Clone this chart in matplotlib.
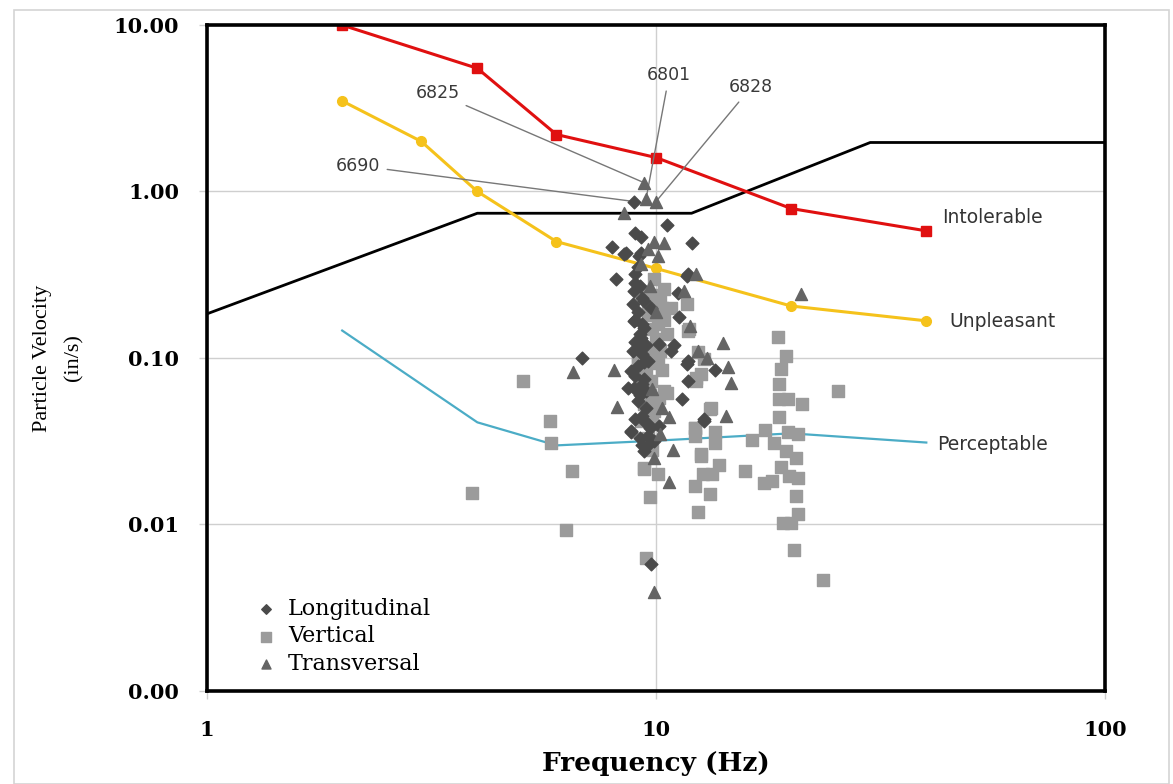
import numpy as np
import matplotlib.pyplot as plt
from matplotlib.patches import Rectangle

# criteria curves
freq_crit = [2, 4, 6, 10, 20, 40]
intolerable = [10.0, 5.5, 2.2, 1.6, 0.79, 0.58]
freq_unpl = [2, 3, 4, 6, 10, 20, 40]
unpleasant = [3.5, 2.0, 1.0, 0.5, 0.345, 0.205, 0.167]
perceptable = [0.146, 0.041, 0.0298, 0.0318, 0.0352, 0.031]

# limit line
freq_lim = [1, 4, 12, 30, 100]
vel_lim = [0.184, 0.74, 0.74, 1.97, 1.97]

# measured vibrations
long_f = [8.95, 10.6, 9.0, 9.26, 8.0, 12.05, 8.5, 9.15, 8.14, 11.2, 11.75, 11.25,
          10.95, 11.7, 13.5, 11.4, 12.8, 8.8, 9.4, 9.75, 8.65, 6.85, 8.57, 9.26,
          8.93, 8.88, 8.93, 9.26, 8.88, 9.75, 9.4, 10.16, 10.8, 11.8, 9.6, 11.8,
          8.79, 8.93, 8.79, 10.16, 9.9, 12.8, 11.8, 9.1, 9.0, 9.3, 9.1, 9.2, 9.0,
          9.3, 9.1, 9.4, 9.2, 9.5, 9.3, 9.6, 9.2, 9.6,
          9.0, 9.2, 9.4, 9.0, 9.3, 9.5, 9.1, 9.4, 9.0, 9.3, 9.5, 9.1, 9.4, 9.7,
          9.0, 9.6, 9.3]
long_v = [0.87, 0.63, 0.56, 0.53, 0.465, 0.49, 0.42, 0.41, 0.30, 0.245, 0.31, 0.175,
          0.12, 0.092, 0.084, 0.057, 0.043, 0.036, 0.0275, 0.0058, 0.066, 0.10, 0.424, 0.424,
          0.254, 0.211, 0.167, 0.132, 0.11, 0.20, 0.152, 0.121, 0.11, 0.096, 0.096, 0.32,
          0.0835, 0.066, 0.0363, 0.039, 0.0316, 0.0417, 0.0727, 0.35, 0.28, 0.23, 0.19, 0.14, 0.125,
          0.105, 0.09, 0.075, 0.06, 0.05, 0.045, 0.04, 0.033, 0.034,
          0.32, 0.27, 0.22, 0.17, 0.16, 0.12, 0.115, 0.095, 0.078, 0.07, 0.063, 0.055, 0.042, 0.038,
          0.043, 0.030, 0.030]

vert_f = [3.9, 5.05, 5.8, 5.85, 6.3, 6.5, 9.5, 9.7, 9.4, 12.6, 12.2, 12.4, 13.2, 12.7,
          13.3, 13.8, 13.2, 12.2, 12.2, 13.5, 13.5, 15.8, 16.4, 17.5, 17.4, 18.1, 18.7,
          19.5, 19.0, 18.8, 18.8, 19.7, 21.1, 18.8, 19.7, 20.7, 18.3, 19.5, 20.5, 19.0,
          19.8, 20.7, 20.5, 20.7, 20.0, 19.2, 20.3, 23.6, 25.4,
          11.7, 11.8, 12.4, 12.8, 12.3, 12.6, 10.4, 10.8, 10.3, 10.1, 9.75, 9.11, 10.6,
          11.85, 9.4, 10.16, 9.26, 10.6, 12.3, 12.2, 13.25, 12.6, 9.4, 10.1, 10.1, 9.11,
          9.75, 9.9, 9.5, 9.9, 10.0, 9.6, 10.3, 9.8, 10.2, 10.4,
          9.6, 9.8, 9.5, 9.7, 9.9, 9.6, 9.8, 10.2, 10.4, 10.0]
vert_v = [0.0155, 0.073, 0.042, 0.031, 0.0093, 0.021, 0.0063, 0.0145, 0.0215, 0.0256, 0.017,
          0.0118, 0.0152, 0.020, 0.020, 0.0227, 0.049, 0.038, 0.034, 0.036, 0.031, 0.021,
          0.032, 0.037, 0.0178, 0.0182, 0.134, 0.103, 0.086, 0.070, 0.057, 0.057, 0.053,
          0.044, 0.036, 0.035, 0.031, 0.0275, 0.025, 0.022, 0.0196, 0.019, 0.0148, 0.0115,
          0.0102, 0.0102, 0.007, 0.0046, 0.063,
          0.21, 0.146, 0.108, 0.098, 0.076, 0.080, 0.063, 0.20, 0.20, 0.16, 0.11, 0.096, 0.14,
          0.15, 0.0528, 0.0574, 0.0417, 0.0615, 0.0727, 0.038, 0.050, 0.0265, 0.0217, 0.020,
          0.093, 0.093, 0.0727, 0.048, 0.25, 0.30, 0.13, 0.18, 0.085, 0.040, 0.23, 0.26,
          0.21, 0.15, 0.085, 0.06, 0.055, 0.033, 0.028, 0.11, 0.17, 0.24]

trans_f = [9.4, 10.0, 8.5, 10.4, 11.55, 12.3, 11.9, 14.1, 6.55, 8.05, 8.2, 14.5, 14.7,
           14.3, 10.7, 10.9, 10.7, 9.9, 21.0, 9.26, 10.1, 12.4, 13.0, 9.5,
           9.7, 10.0, 9.8, 10.2, 9.9, 10.3, 9.6, 9.9]
trans_v = [1.13, 0.87, 0.74, 0.49, 0.254, 0.32, 0.155, 0.123, 0.082, 0.084, 0.051, 0.088,
           0.071, 0.045, 0.044, 0.028, 0.018, 0.0039, 0.243, 0.368, 0.41, 0.11, 0.10, 0.90,
           0.27, 0.19, 0.065, 0.035, 0.025, 0.05, 0.45, 0.50]

# labelled events: (label, freq, vel, text freq, text vel)
events = [('6825', 9.4, 1.13, 3.26, 3.9),
          ('6690', 8.95, 0.87, 2.17, 1.43),
          ('6801', 9.5, 0.90, 10.7, 5.0),
          ('6828', 10.0, 0.87, 16.3, 4.24)]

SERIF = 'DejaVu Serif'
SANS = 'DejaVu Sans'

fig = plt.figure(figsize=(11.73, 7.84), dpi=100)
fig.patches.append(Rectangle((0.012, 0.0), 0.985, 0.987, transform=fig.transFigure,
                             fill=False, edgecolor='#d4d4d4', lw=1.2))
ax = fig.add_axes([0.1765, 0.119, 0.7655, 0.849])

ax.set_xscale('log')
ax.set_yscale('log')
ax.set_xlim(1, 100)
ax.set_ylim(0.001, 10)

ax.grid(True, which='major', color='#cfcfcf', lw=1.0)
ax.minorticks_off()
ax.set_axisbelow(True)

ax.plot(freq_lim, vel_lim, color='black', lw=2.0)
ax.plot(freq_crit, intolerable, color='#e01010', lw=2.2, marker='s', ms=7.5)
ax.plot(freq_unpl, unpleasant, color='#f5c21b', lw=2.2, marker='o', ms=7)
ax.plot(freq_crit, perceptable, color='#4bacc6', lw=1.6)

ax.scatter(vert_f, vert_v, marker='s', s=80, color='#9b9b9b', label='Vertical', zorder=3)
ax.scatter(long_f, long_v, marker='D', s=42, color='#4a4a4a', label='Longitudinal', zorder=4)
ax.scatter(trans_f, trans_v, marker='^', s=75, color='#646464', label='Transversal', zorder=4)

for lab, fx, fy, tx, ty in events:
    ax.annotate(lab, xy=(fx, fy), xytext=(tx, ty), fontsize=12.5, family=SANS,
                color='#3a3a3a', ha='center', va='center',
                arrowprops=dict(arrowstyle='-', color='#777777', lw=1.0, shrinkA=3, shrinkB=2))

ax.text(43.3, 0.70, 'Intolerable', fontsize=13.5, family=SANS, color='#333333', va='center')
ax.text(45.1, 0.165, 'Unpleasant', fontsize=13.5, family=SANS, color='#333333', va='center')
ax.text(42.2, 0.0303, 'Perceptable', fontsize=13.5, family=SANS, color='#333333', va='center')

for s in ax.spines.values():
    s.set_linewidth(2.6)
    s.set_color('black')

ax.set_xticks([1, 10, 100])
ax.set_xticklabels(['1', '10', '100'])
ax.set_yticks([0.001, 0.01, 0.1, 1, 10])
ax.set_yticklabels(['0.00', '0.01', '0.10', '1.00', '10.00'])
ax.tick_params(axis='both', length=6, color='#cfcfcf', width=1)
ax.tick_params(axis='y', pad=14)
ax.tick_params(axis='x', pad=15)
for t in ax.get_xticklabels() + ax.get_yticklabels():
    t.set_family(SERIF)
    t.set_fontsize(15)
    t.set_fontweight('bold')

ax.set_xlabel('Frequency (Hz)', family=SERIF, fontsize=19, fontweight='bold', labelpad=8)
ax.set_ylabel('Particle Velocity\n(in/s)', family='Liberation Serif', fontsize=16,
              labelpad=22, linespacing=1.85)

handles, labels = ax.get_legend_handles_labels()
order = [1, 0, 2]
leg = ax.legend([handles[i] for i in order], [labels[i] for i in order],
                loc='lower left', bbox_to_anchor=(0.031, -0.006), frameon=False,
                prop={'family': SERIF, 'size': 16}, handletextpad=0.5,
                labelspacing=0.24, handlelength=1.0, markerscale=0.75)

plt.savefig('out.png', dpi=100)
